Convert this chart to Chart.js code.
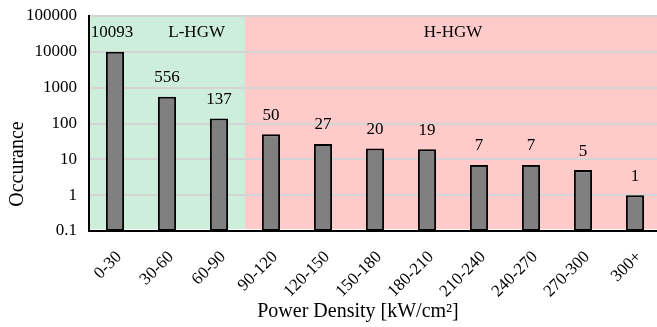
<!DOCTYPE html>
<html lang="en">
  <head>
    <meta charset="utf-8" />
    <script src="https://cdn.jsdelivr.net/npm/chart.js@4"></script>
    <style>
      html, body { margin: 0; padding: 0; overflow: hidden; background: #fff; }
    </style>
    <title>Occurance</title>
  </head>
  <body>
    <canvas id="chart" width="662" height="327"></canvas>
    <script>
      const categories = ['0-30', '30-60', '60-90', '90-120', '120-150', '150-180', '180-210', '210-240', '240-270', '270-300', '300+'];
      const occurance = [10093, 556, 137, 50, 27, 20, 19, 7, 7, 5, 1];
      const yTicks = [0.1, 1, 10, 100, 1000, 10000, 100000];
      const regions = [
        { label: 'L-HGW', from: 0, to: 2, color: '#cdeedb' },
        { label: 'H-HGW', from: 3, to: 10, color: '#ffcaca' }
      ];
      const xTitle = 'Power Density [kW/cm²]';
      const yTitle = 'Occurance';
      const serif = '"Liberation Serif", "Times New Roman", serif';

      const shading = {
        id: 'shading',
        beforeDraw(chart) {
          const { ctx, chartArea, scales: { x } } = chart;
          const half = (x.getPixelForValue(1) - x.getPixelForValue(0)) / 2;
          ctx.save();
          regions.forEach(r => {
            const left = Math.max(chartArea.left, x.getPixelForValue(r.from) - half);
            const right = x.getPixelForValue(r.to) + half;
            ctx.fillStyle = r.color;
            ctx.fillRect(left, chartArea.top, right - left, chartArea.bottom - chartArea.top - 2);
          });
          ctx.restore();
        },
        afterDatasetsDraw(chart) {
          const { ctx, chartArea, scales: { x } } = chart;
          const half = (x.getPixelForValue(1) - x.getPixelForValue(0)) / 2;
          ctx.save();
          ctx.fillStyle = '#000';
          ctx.font = '17px ' + serif;
          ctx.textAlign = 'center';
          ctx.textBaseline = 'middle';
          regions.forEach(r => {
            const left = Math.max(chartArea.left, x.getPixelForValue(r.from) - half);
            const right = x.getPixelForValue(r.to) + half;
            let cx = (left + right) / 2;
            if (r.from === 0) cx = left + (right - left) * 0.69;
            ctx.fillText(r.label, cx, chartArea.top + 17);
          });
          const meta = chart.getDatasetMeta(0);
          meta.data.forEach((bar, i) => {
            let bx = bar.x;
            if (i === 0) bx -= 3;
            ctx.fillText(String(occurance[i]), bx, bar.y - 19);
          });
          // axis titles
          ctx.font = '20px ' + serif;
          ctx.fillText(xTitle, 358, 312);
          ctx.translate(18, 164);
          ctx.rotate(-Math.PI / 2);
          ctx.fillText(yTitle, 0, 0);
          ctx.restore();
        }
      };

      new Chart(document.getElementById('chart'), {
        type: 'bar',
        data: {
          labels: categories,
          datasets: [{
            data: occurance,
            backgroundColor: '#808080',
            borderColor: '#000',
            borderWidth: 2,
            borderSkipped: false,
            barPercentage: 0.35,
            categoryPercentage: 1
          }]
        },
        options: {
          responsive: false,
          animation: false,
          layout: { padding: { top: 16, right: 1, left: 0, bottom: 0 } },
          plugins: { legend: { display: false }, tooltip: { enabled: false } },
          scales: {
            x: {
              grid: { display: false },
              border: { color: '#000', width: 2 },
              ticks: {
                color: '#000',
                font: { family: serif, size: 17 },
                minRotation: 45,
                maxRotation: 45,
                padding: 8,
                labelOffset: 4
              },
              afterFit(scale) { scale.height = 96; scale.paddingLeft = 0; scale.paddingRight = 0; }
            },
            y: {
              type: 'logarithmic',
              min: 0.1,
              max: 100000,
              grid: { color: '#d4d4d4', lineWidth: 2, drawTicks: false },
              border: { color: '#000', width: 2 },
              afterBuildTicks(axis) { axis.ticks = yTicks.map(v => ({ value: v })); },
              ticks: {
                color: '#000',
                font: { family: serif, size: 17 },
                padding: 12,
                callback: (value) => String(value)
              },
              afterFit(scale) { scale.width = 89; scale.paddingTop = 0; scale.paddingBottom = 0; }
            }
          }
        },
        plugins: [shading]
      });
    </script>
  </body>
</html>
